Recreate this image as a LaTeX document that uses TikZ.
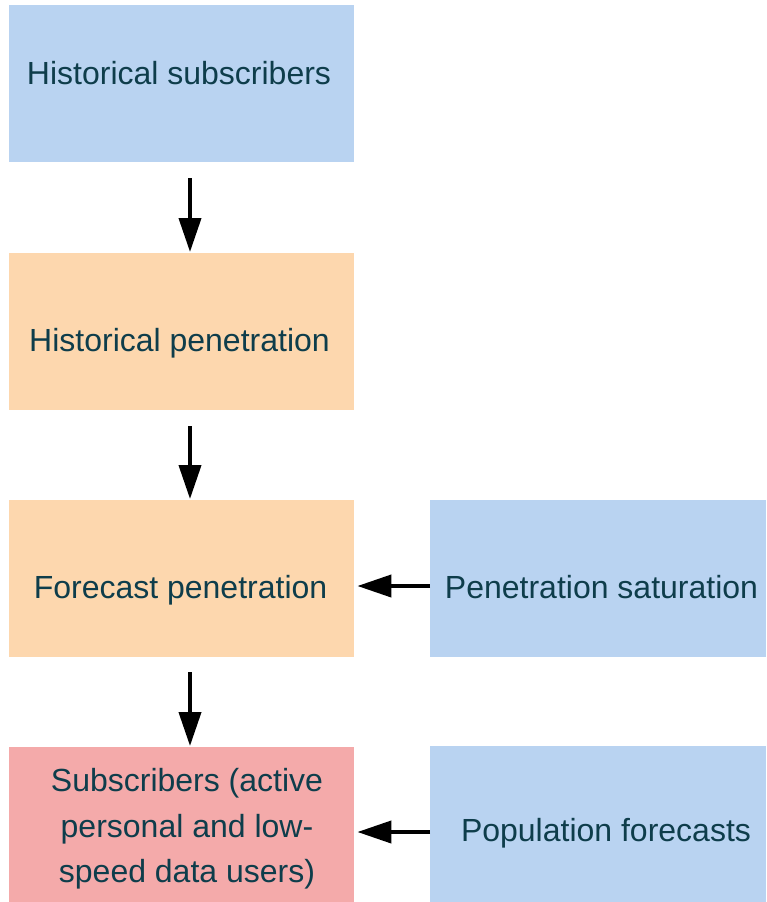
\documentclass[tikz,border=0pt]{standalone}
\usepackage{fontspec}
\setmainfont{Liberation Sans}
\usetikzlibrary{arrows.meta}
\definecolor{boxblue}{HTML}{B9D3F1}
\definecolor{boxorange}{HTML}{FDD7AE}
\definecolor{boxred}{HTML}{F4AAAA}
\definecolor{inktext}{HTML}{0E3D4B}
\tikzset{
  box/.style={rectangle, draw=none, inner sep=0pt, anchor=north west},
  wide/.style={minimum width=345pt, minimum height=157pt},
  side/.style={minimum width=336pt, minimum height=157pt},
  txt/.style={text=inktext, font=\fontsize{32}{45.5}\selectfont, inner sep=0pt, align=center},
  flow/.style={line width=4pt, -{Triangle[length=34pt,width=22pt]}},
}
\begin{document}
\begin{tikzpicture}[x=1pt,y=-1pt]
\useasboundingbox[fill=white] (0,0) rectangle (766,902);
% boxes
\node[box, wide, fill=boxblue]   (hs) at (9,5)   {};
\node[box, wide, fill=boxorange] (hp) at (9,253) {};
\node[box, wide, fill=boxorange] (fp) at (9,500) {};
\node[box, side, fill=boxblue]   (ps) at (430,500) {};
\node[box, wide, fill=boxred]    (sb) at (9,747) {};
\node[box, side, fill=boxblue]   (pf) at (430,746) {};
% labels
\node[txt] (hsT) at (179,73)  {Historical subscribers};
\node[txt] (hpT) at (179.5,343) {Historical penetration};
\node[txt] (fpT) at (180.5,590) {Forecast penetration};
\node[txt] (psT) at (601.5,587) {Penetration saturation};
\node[txt] (sbT) at (187,829) {Subscribers (active\\ personal and low-\\ speed data users)};
\node[txt] (pfT) at (606,833) {Population forecasts};
% connectors
\draw[flow, shorten <=16pt, shorten >=1pt] (hs.south -| 190,0) -- (hp.north -| 190,0);
\draw[flow, shorten <=16pt, shorten >=1pt] (hp.south -| 190,0) -- (fp.north -| 190,0);
\draw[flow, shorten <=15pt, shorten >=1pt] (fp.south -| 190,0) -- (sb.north -| 190,0);
\draw[flow, shorten >=3pt] (ps.west |- 0,586) -- (fp.east |- 0,586);
\draw[flow, shorten >=3pt] (pf.west |- 0,832) -- (sb.east |- 0,832);
\end{tikzpicture}
\end{document}
